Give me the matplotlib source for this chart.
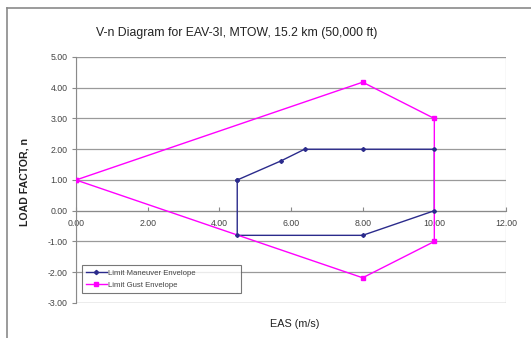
import matplotlib
matplotlib.use("Agg")
import matplotlib.pyplot as plt
from matplotlib.lines import Line2D
from matplotlib.patches import Rectangle

plt.rcParams['font.family'] = ['Liberation Sans', 'DejaVu Sans']

# Limit maneuver envelope (EAS in m/s, load factor n)
man_v = [4.5, 5.72, 6.38, 8.0, 10.0, 10.0, 8.0, 4.5, 4.5]
man_n = [1.0, 1.62, 2.0, 2.0, 2.0, 0.0, -0.8, -0.8, 1.0]

# Limit gust envelope
gust_v = [0.0, 8.0, 10.0, 10.0, 8.0, 0.0]
gust_n = [1.0, 4.18, 3.0, -1.0, -2.18, 1.0]

x_ticks = [0, 2, 4, 6, 8, 10, 12]
y_ticks = [5, 4, 3, 2, 1, 0, -1, -2, -3]

title = "V-n Diagram for EAV-3I, MTOW, 15.2 km (50,000 ft)"
man_label = "Limit Maneuver Envelope"
gust_label = "Limit Gust Envelope"

navy = "#2b2b8c"
magenta = "#ff00ff"
grid_c = "#9a9a9a"
text_c = "#444444"

fig = plt.figure(figsize=(5.31, 3.38), dpi=100)
fig.patch.set_facecolor("white")

# chart area border (top and left edges)
fig.add_artist(Line2D([0.013, 1.0], [0.976, 0.976], color="#8a8a8a", lw=1.2,
                      transform=fig.transFigure))
fig.add_artist(Line2D([0.013, 0.013], [0.0, 0.976], color="#8a8a8a", lw=1.2,
                      transform=fig.transFigure))

ax = fig.add_axes([0.1431, 0.1036, 0.8098, 0.7278])
ax.set_xlim(0, 12)
ax.set_ylim(-3, 5)

for y in y_ticks:
    ax.axhline(y, color=grid_c, lw=0.9, zorder=1)

ax.plot(man_v, man_n, color=navy, lw=1.0, marker="D", ms=1.8,
        label=man_label, zorder=3)
ax.plot(gust_v, gust_n, color=magenta, lw=1.0, marker="s", ms=2.5,
        label=gust_label, zorder=4)
ax.plot(man_v, man_n, color=navy, lw=0, marker="D", ms=1.8, zorder=5)

for s in ["top", "right"]:
    ax.spines[s].set_visible(False)
ax.spines["left"].set_position(("data", 0))
ax.spines["left"].set_color("#8a8a8a")
ax.spines["bottom"].set_position(("data", 0))
ax.spines["bottom"].set_color("#8a8a8a")
ax.add_patch(Rectangle((0, 0), 1, 1, transform=ax.transAxes, fill=False,
                       edgecolor="#cfcfcf", lw=0.9, zorder=0.5))

ax.set_xticks(x_ticks)
ax.set_xticklabels([f"{v:.2f}" for v in x_ticks])
ax.set_yticks(y_ticks)
ax.set_yticklabels([f"{v:.2f}" for v in y_ticks])
ax.tick_params(axis="x", direction="in", length=3, width=0.8, color="#8a8a8a",
               labelsize=6.3, labelcolor=text_c, pad=6)
ax.tick_params(axis="y", direction="out", length=3, width=0.8, color="#8a8a8a",
               labelsize=6.3, labelcolor=text_c, pad=3)

leg = ax.legend(loc="lower left", bbox_to_anchor=(0.014, 0.041, 0.37, 0.142),
                mode="expand", fontsize=5.6, frameon=True, fancybox=False,
                borderaxespad=0, handlelength=2.6, handletextpad=0.2,
                borderpad=0.55, labelspacing=0.6, markerscale=1.2)
leg.get_frame().set_edgecolor("#555555")
leg.get_frame().set_linewidth(0.8)
leg.set_zorder(10)
for t in leg.get_texts():
    t.set_color(text_c)

fig.text(237 / 531, 1 - 33 / 338, title, ha="center", va="center",
         fontsize=8.8, color="#222222")
fig.text(25 / 531, 1 - 182 / 338, "LOAD FACTOR, n", ha="center", va="center",
         rotation=90, fontsize=7.6, fontweight="bold", color="#222222")
fig.text(295 / 531, 1 - 324 / 338, "EAS (m/s)", ha="center", va="center",
         fontsize=7.8, color="#222222")

fig.savefig("out.png", dpi=100)
